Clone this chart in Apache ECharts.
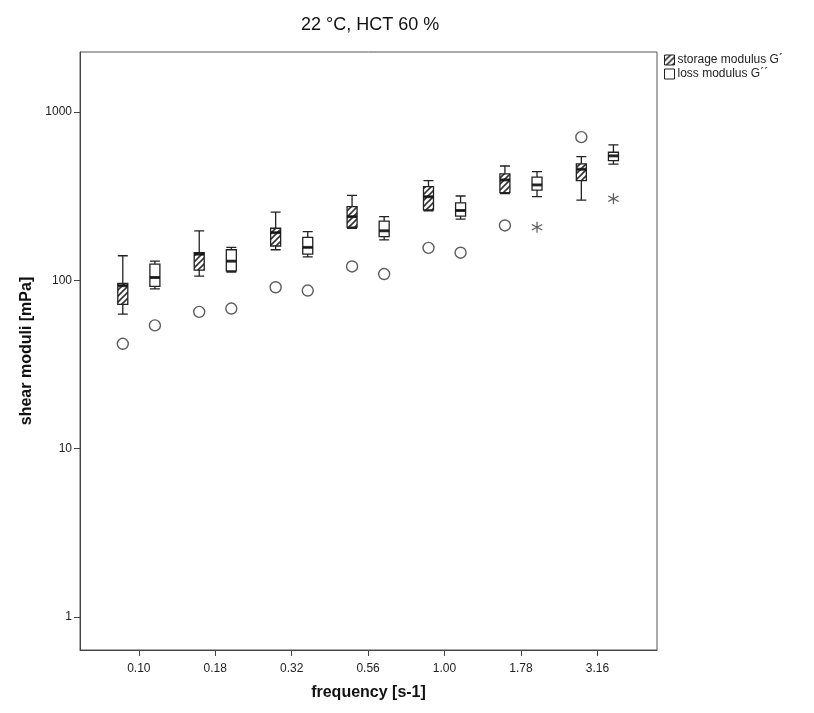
<!DOCTYPE html>
<html>
<head>
<meta charset="utf-8">
<script src="https://cdn.jsdelivr.net/npm/echarts@6/dist/echarts.min.js"></script>
<style>
html, body { margin: 0; padding: 0; background: #fff; }
#chart { width: 814px; height: 713px; }
</style>
</head>
<body>
<div id="chart"></div>
<script>
// frequency categories
var freqLabels = ["0.10", "0.18", "0.32", "0.56", "1.00", "1.78", "3.16"];
// [min, Q1, median, Q3, max] in mPa
var storageBox = [
    [63, 72, 93, 96, 140],
    [106, 115, 143, 146, 197],
    [152, 160, 192, 204, 254],
    [204, 207, 239, 274, 320],
    [259, 262, 314, 360, 391],
    [328, 332, 395, 429, 478],
    [300, 391, 457, 492, 543]
];
var lossBox = [
    [89, 92, 104, 125, 130],
    [112, 114, 130, 152, 157],
    [138, 143, 157, 180, 195],
    [174, 182, 197, 225, 239],
    [231, 241, 260, 289, 317],
    [314, 344, 369, 410, 442],
    [490, 514, 549, 577, 638]
];
// [category index, value]
var storageOutliers = [[0, 42], [1, 65], [2, 91], [3, 121], [4, 156], [5, 212], [6, 709]];
var lossOutliers = [[0, 54], [1, 68], [2, 87], [3, 109], [4, 146]];
var lossExtremes = [[5, 207], [6, 305]];
var yTicks = [1, 10, 100, 1000];
var catIdx = [0, 1, 2, 3, 4, 5, 6];

var dx = 0.21; // shift of each box from the category tick
var font = "'Liberation Sans', Arial, sans-serif";
var star = "path://M9 0L11 0L11 20L9 20ZM1.84 4.134L19.16 14.134L18.16 15.866L0.84 5.866ZM0.84 14.134L18.16 4.134L19.16 5.866L1.84 15.866Z";

function hatch() {
    var c = document.createElement("canvas");
    c.width = 6; c.height = 6;
    var g = c.getContext("2d");
    g.fillStyle = "#fff";
    g.fillRect(0, 0, 6, 6);
    g.strokeStyle = "#333";
    g.lineWidth = 1.6;
    g.beginPath();
    g.moveTo(0, 6); g.lineTo(6, 0);
    g.moveTo(-3, 3); g.lineTo(3, -3);
    g.moveTo(3, 9); g.lineTo(9, 3);
    g.stroke();
    return c;
}
var hatchFill = { image: hatch(), repeat: "repeat" };

function boxes(list, shift) {
    return list.map(function (b, i) { return [i + shift].concat(b); });
}
function medians(list, shift) {
    return list.map(function (b, i) { return [i + shift, b[2]]; });
}
function points(list, shift) {
    return list.map(function (p) { return [p[0] + shift, p[1]]; });
}

var chart = echarts.init(document.getElementById("chart"));

var xBase = {
    type: "value",
    min: -0.77,
    max: 6.78,
    gridIndex: 0,
    splitLine: { show: false }
};

var option = {
    animation: false,
    backgroundColor: "#fff",
    textStyle: { fontFamily: font },
    title: {
        text: "22 °C, HCT 60 %",
        left: 296,
        top: 11,
        textStyle: { fontFamily: font, fontSize: 18, fontWeight: "normal", color: "#111" }
    },
    legend: {
        orient: "vertical",
        left: 659,
        top: 49,
        itemWidth: 10,
        itemHeight: 10,
        itemGap: 2,
        selectedMode: false,
        textStyle: { fontFamily: font, fontSize: 12, color: "#222", padding: [0, 0, 0, -2] },
        data: [
            { name: "storage modulus G´", icon: "rect", itemStyle: { color: hatchFill, borderColor: "#222", borderWidth: 1 } },
            { name: "loss modulus G´´", icon: "rect", itemStyle: { color: "#fff", borderColor: "#222", borderWidth: 1 } }
        ]
    },
    grid: {
        left: 80,
        right: 157,
        top: 52,
        bottom: 63,
        show: true,
        borderColor: "#555",
        borderWidth: 1
    },
    xAxis: [
        Object.assign({}, xBase, {
            name: "frequency [s-1]",
            nameLocation: "middle",
            nameGap: 35,
            nameTextStyle: { fontFamily: font, fontSize: 16, fontWeight: "bold", color: "#111" },
            axisLine: { show: true, onZero: false, lineStyle: { color: "#444", width: 1 } },
            axisTick: { show: true, customValues: catIdx, length: 6, lineStyle: { color: "#444" } },
            axisLabel: {
                customValues: catIdx,
                margin: 13,
                fontSize: 12,
                color: "#222",
                formatter: function (v) { return freqLabels[Math.round(v)]; }
            }
        }),
        Object.assign({}, xBase, { show: false })
    ],
    yAxis: {
        type: "log",
        min: 0.637,
        max: 2273,
        name: "shear moduli [mPa]",
        nameLocation: "middle",
        nameGap: 40,
        nameTextStyle: { fontFamily: font, fontSize: 16, fontWeight: "bold", color: "#111" },
        splitLine: { show: false },
        axisLine: { show: true, onZero: false, lineStyle: { color: "#444", width: 1 } },
        axisTick: { show: true, customValues: yTicks, length: 6, lineStyle: { color: "#444" } },
        axisLabel: {
            customValues: yTicks,
            margin: 8,
            fontSize: 12,
            color: "#222",
            formatter: function (v) { return String(Math.round(v)); }
        }
    },
    series: [
        {
            name: "storage modulus G´",
            type: "boxplot",
            xAxisIndex: 0,
            boxWidth: [10, 10],
            itemStyle: { color: hatchFill, borderColor: "#222", borderWidth: 1.3 },
            data: boxes(storageBox, -dx)
        },
        {
            name: "loss modulus G´´",
            type: "boxplot",
            xAxisIndex: 1,
            boxWidth: [10, 10],
            itemStyle: { color: "#fff", borderColor: "#222", borderWidth: 1.3 },
            data: boxes(lossBox, dx)
        },
        {
            name: "median",
            type: "scatter",
            xAxisIndex: 0,
            symbol: "rect",
            symbolSize: [10, 3],
            itemStyle: { color: "#111" },
            z: 5,
            data: medians(storageBox, -dx).concat(medians(lossBox, dx))
        },
        {
            name: "outliers",
            type: "scatter",
            xAxisIndex: 0,
            symbol: "circle",
            symbolSize: 11,
            itemStyle: { color: "#fff", borderColor: "#333", borderWidth: 1.4 },
            data: points(storageOutliers, -dx).concat(points(lossOutliers, dx))
        },
        {
            name: "extremes",
            type: "scatter",
            xAxisIndex: 0,
            symbol: star,
            symbolSize: 11,
            itemStyle: { color: "#333" },
            data: points(lossExtremes, dx)
        }
    ]
};

chart.setOption(option);
</script>
</body>
</html>
